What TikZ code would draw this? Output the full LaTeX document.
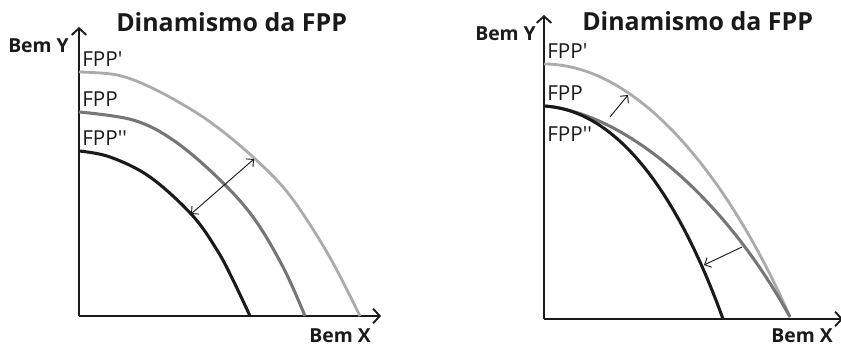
\documentclass[tikz,border=0pt]{standalone}
\usepackage{fontspec}
\setmainfont{Open Sans}[Ligatures=TeXOff]
\usepackage{xcolor}
\definecolor{cLight}{HTML}{ABABAB}
\definecolor{cMid}{HTML}{767676}
\definecolor{cDark}{HTML}{1A1A1A}
\usepackage{tikz}
\usetikzlibrary{positioning,arrows.meta}
\tikzset{
  axis/.style={-{Straight Barb[length=5pt,width=11pt]},line width=1.4pt,draw=cDark},
  fpp-light/.style={line width=2.1pt,draw=cLight},
  fpp-mid/.style={line width=2.3pt,draw=cMid},
  fpp-dark/.style={line width=2.3pt,draw=cDark},
  shift-arrow/.style={-{Straight Barb[length=4pt,width=8pt]},line width=0.7pt,draw=cDark},
  shift-both/.style={{Straight Barb[length=4pt,width=8pt]}-{Straight Barb[length=4pt,width=8pt]},
    line width=0.7pt,draw=cDark},
  label-fpp/.style={anchor=base west,inner sep=0pt,font=\fontsize{15.5}{18}\selectfont,text=cDark},
  label-axis/.style={anchor=base east,inner sep=0pt,font=\bfseries\fontsize{14.5}{17}\selectfont,text=cDark},
  label-title/.style={anchor=base west,inner sep=0pt,font=\bfseries\fontsize{18.7}{22}\selectfont,text=cDark},
}
\begin{document}
\begin{tikzpicture}[x=0.75pt,y=-0.75pt]
  \useasboundingbox (0,0) rectangle (841,346);
  % painel esquerdo: deslocamento paralelo
  \coordinate (o1) at (79,316);
  \coordinate (y1) at (79,27);
  \coordinate (x1) at (381,316);
  \draw[axis] (o1) -- (y1);
  \draw[axis] (o1) -- (x1);
  \node[label-title] (t1) at (116,31.5) {Dinamismo da FPP};
  \node[label-axis] (by1) at (69,52.5) {Bem Y};
  \node[label-axis] (bx1) at (371,342) {Bem X};
  \node[label-fpp] (l1a) at (82,66) {FPP'};
  \node[label-fpp] (l1b) at (82,106) {FPP};
  \node[label-fpp] (l1c) at (82,145.5) {FPP''};
  \draw[fpp-light] plot[smooth,tension=0.6] coordinates {(79,72) (117,75) (150,87)
    (187,107) (217,127) (253,157) (283,187) (307,220) (333,263) (360,316)};
  \draw[fpp-mid] plot[smooth,tension=0.6] coordinates {(79,112) (133,120) (173,140)
    (217,177) (253,217) (283,267) (305,316)};
  \draw[fpp-dark] plot[smooth,tension=0.6] coordinates {(79,151) (110,157) (150,177)
    (192,215) (217,250) (233,280) (250,316)};
  \coordinate (s1a) at (191,214);
  \coordinate (s1b) at (254,159);
  \draw[shift-both] (s1a) -- (s1b);
  % painel direito: vies tecnologico
  \coordinate (o2) at (544,319);
  \coordinate (y2) at (544,15);
  \coordinate (x2) at (843,319);
  \draw[axis] (o2) -- (y2);
  \draw[axis] (o2) -- (x2);
  \node[label-title] (t2) at (582,30.7) {Dinamismo da FPP};
  \node[label-axis] (by2) at (536,40.7) {Bem Y};
  \node[label-axis] (bx2) at (833,342.5) {Bem X};
  \node[label-fpp] (l2a) at (547,58.3) {FPP'};
  \node[label-fpp] (l2b) at (547,100) {FPP};
  \node[label-fpp] (l2c) at (547,141.7) {FPP''};
  \coordinate (f2a) at (544,64);
  \coordinate (f2b) at (544,106);
  \coordinate (e2a) at (790,317);
  \coordinate (e2c) at (723,319);
  \draw[fpp-light] (f2a) .. controls (640,64) and (730,180) .. (e2a);
  \draw[fpp-mid] (f2b) .. controls (620,112) and (720,190) .. (e2a);
  \draw[fpp-dark] (f2b) .. controls (620,110) and (680,200) .. (e2c);
  \coordinate (s2a) at (610,117);
  \coordinate (s2b) at (628,95);
  \coordinate (s2c) at (742,247);
  \coordinate (s2d) at (704,265);
  \draw[shift-arrow] (s2a) -- (s2b);
  \draw[shift-arrow] (s2c) -- (s2d);
\end{tikzpicture}
\end{document}
